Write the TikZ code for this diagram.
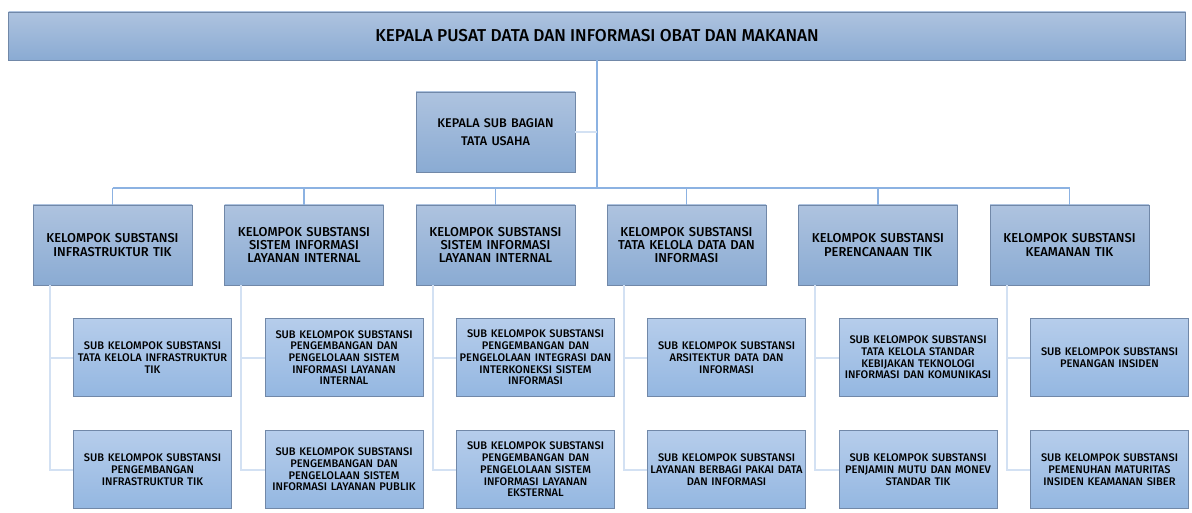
\documentclass[tikz,border=0pt]{standalone}
\usepackage{fontspec}
\setmainfont{Fira Sans}[UprightFont={* Medium}]
\usetikzlibrary{calc}

\definecolor{boxtop}{HTML}{AEC3DF}
\definecolor{boxbot}{HTML}{8AABD3}
\definecolor{subtop}{HTML}{B6CDEB}
\definecolor{subbot}{HTML}{94B7E1}
\definecolor{boxline}{HTML}{7188A8}
\definecolor{trunkblue}{HTML}{8CB2E2}
\definecolor{spineblue}{HTML}{D3E1F3}

\tikzstyle{unit}=[draw=boxline,line width=0.9pt,top color=boxtop,bottom color=boxbot,align=center,inner sep=2pt,font=\fontsize{12.9}{13.3}\selectfont]
\tikzstyle{headbox}=[unit,minimum width=1177pt,minimum height=48pt,font=\fontsize{17.2}{18}\selectfont]
\tikzstyle{groupbox}=[unit,minimum width=159pt,minimum height=80pt,text width=155pt]
\tikzstyle{subbox}=[unit,top color=subtop,bottom color=subbot,minimum width=158pt,minimum height=78pt,text width=154pt,font=\fontsize{11.05}{11.7}\selectfont]
\tikzstyle{trunk}=[draw=trunkblue,line width=1.8pt]
\tikzstyle{spine}=[draw=spineblue,line width=2pt]

\begin{document}
\begin{tikzpicture}[x=1pt,y=-1pt]
    \useasboundingbox (0,0) rectangle (1192,513);
    % Head of the unit and its administration office
    \node[headbox] (kepala) at (597,36) {KEPALA PUSAT DATA DAN INFORMASI OBAT DAN MAKANAN};
    \node[groupbox,font=\fontsize{12.6}{18}\selectfont] (tu) at (495.5,132) {KEPALA SUB BAGIAN\\TATA USAHA};
    \coordinate (bus) at (597,188);
    % Draw the six groups
    \foreach \pos/\name/\text in {
        {(112.5,245)/k1/KELOMPOK SUBSTANSI\\INFRASTRUKTUR TIK},
        {(304,245)/k2/KELOMPOK SUBSTANSI\\SISTEM INFORMASI\\LAYANAN INTERNAL},
        {(495.5,245)/k3/KELOMPOK SUBSTANSI\\SISTEM INFORMASI\\LAYANAN INTERNAL},
        {(686.5,245)/k4/KELOMPOK SUBSTANSI\\TATA KELOLA DATA DAN\\INFORMASI},
        {(878,245)/k5/KELOMPOK SUBSTANSI\\PERENCANAAN TIK},
        {(1069.5,245)/k6/KELOMPOK SUBSTANSI\\KEAMANAN TIK}}
        \node[groupbox] (\name) at \pos {\text};
    % Sub groups, two under each group
    \foreach \pos/\name/\text in {
        {(152.5,357.5)/k1a/SUB KELOMPOK SUBSTANSI\\TATA KELOLA INFRASTRUKTUR\\TIK},
        {(152.5,469.5)/k1b/SUB KELOMPOK SUBSTANSI\\PENGEMBANGAN\\INFRASTRUKTUR TIK},
        {(344,357.5)/k2a/SUB KELOMPOK SUBSTANSI\\PENGEMBANGAN DAN\\PENGELOLAAN SISTEM\\INFORMASI LAYANAN\\INTERNAL},
        {(344,469.5)/k2b/SUB KELOMPOK SUBSTANSI\\PENGEMBANGAN DAN\\PENGELOLAAN SISTEM\\INFORMASI LAYANAN PUBLIK},
        {(535.5,357.5)/k3a/SUB KELOMPOK SUBSTANSI\\PENGEMBANGAN DAN\\PENGELOLAAN INTEGRASI DAN\\INTERKONEKSI SISTEM\\INFORMASI},
        {(535.5,469.5)/k3b/SUB KELOMPOK SUBSTANSI\\PENGEMBANGAN DAN\\PENGELOLAAN SISTEM\\INFORMASI LAYANAN\\EKSTERNAL},
        {(726.5,357.5)/k4a/SUB KELOMPOK SUBSTANSI\\ARSITEKTUR DATA DAN\\INFORMASI},
        {(726.5,469.5)/k4b/SUB KELOMPOK SUBSTANSI\\LAYANAN BERBAGI PAKAI DATA\\DAN INFORMASI},
        {(918,357.5)/k5a/SUB KELOMPOK SUBSTANSI\\TATA KELOLA STANDAR\\KEBIJAKAN TEKNOLOGI\\INFORMASI DAN KOMUNIKASI},
        {(918,469.5)/k5b/SUB KELOMPOK SUBSTANSI\\PENJAMIN MUTU DAN MONEV\\STANDAR TIK},
        {(1109.5,357.5)/k6a/SUB KELOMPOK SUBSTANSI\\PENANGAN INSIDEN},
        {(1109.5,469.5)/k6b/SUB KELOMPOK SUBSTANSI\\PEMENUHAN MATURITAS\\INSIDEN KEAMANAN SIBER}}
        \node[subbox] (\name) at \pos {\text};
    % Connect everything
    \path[trunk] (kepala.south) -- (bus);
    \path[spine] (tu.east) -- (tu.east -| bus);
    \path[trunk] (k1.north |- bus) -- (k6.north |- bus);
    \foreach \k in {k1,k2,k3,k4,k5,k6} {
        \path[trunk] (\k.north |- bus) -- (\k.north);
        \path[spine] ([xshift=17pt]\k.south west) |- (\k a.west);
        \path[spine] ([xshift=17pt]\k.south west) |- (\k b.west);
    }
\end{tikzpicture}
\end{document}
